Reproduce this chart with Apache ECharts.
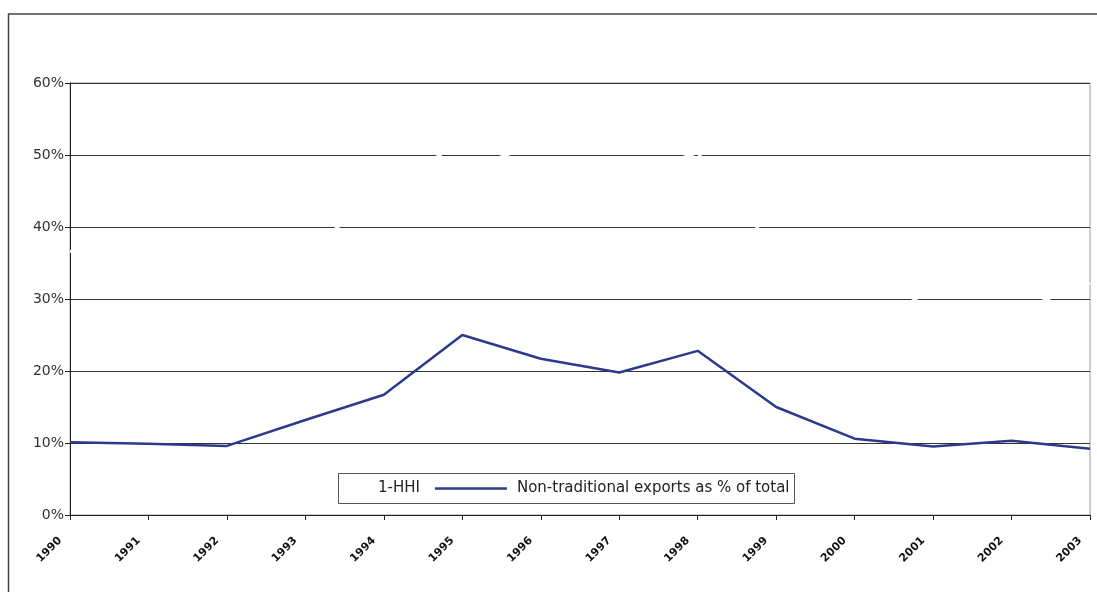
<!DOCTYPE html>
<html>
<head>
<meta charset="utf-8">
<script src="https://cdn.jsdelivr.net/npm/echarts@6/dist/echarts.min.js"></script>
<style>
  html, body { margin: 0; padding: 0; background: #fff; }
  #chart { width: 1097px; height: 592px; }
</style>
</head>
<body>
<div id="chart"></div>
<script>
// Years on the category axis
const years = ['1990', '1991', '1992', '1993', '1994', '1995', '1996',
               '1997', '1998', '1999', '2000', '2001', '2002', '2003'];

// 1-HHI (percent), drawn in white
const hhi = [36.6, 37.0, 37.5, 36.5, 45.0, 52.0, 48.2,
             47.0, 50.3, 36.6, 34.6, 28.5, 28.1, 32.2];

// Non-traditional exports as % of total
const nonTraditional = [10.1, 9.9, 9.6, 13.2, 16.7, 25.0, 21.7,
                        19.8, 22.8, 15.0, 10.6, 9.5, 10.3, 9.2];

// Y-axis ticks
const yTicks = [0, 10, 20, 30, 40, 50, 60];

const seriesNames = ['1-HHI', 'Non-traditional exports as % of total'];

const chart = echarts.init(document.getElementById('chart'), null, { renderer: 'canvas' });

const fontFamily = '"DejaVu Sans", Verdana, sans-serif';

chart.setOption({
  animation: false,
  backgroundColor: '#fff',
  grid: {
    left: 70, right: 7, top: 83, bottom: 77,
    show: true, borderColor: '#999', borderWidth: 1, backgroundColor: 'transparent'
  },
  legend: {
    data: seriesNames,
    left: 296,
    top: 481,
    padding: 0,
    icon: 'rect',
    itemWidth: 72,
    itemHeight: 2.5,
    itemGap: 15,
    textStyle: { fontFamily: fontFamily, fontSize: 15, color: '#222', padding: [0, 0, 0, 5] }
  },
  xAxis: {
    type: 'category',
    data: years,
    boundaryGap: false,
    axisLine: { show: true, lineStyle: { color: '#222', width: 1 } },
    axisTick: { show: true, length: 5, inside: false, lineStyle: { color: '#222' } },
    axisLabel: {
      rotate: 45, margin: 14, interval: 0, padding: [0, 14, 0, 0],
      fontFamily: fontFamily, fontSize: 11, fontWeight: 'bold', color: '#111'
    },
    splitLine: { show: false }
  },
  yAxis: {
    type: 'value',
    min: yTicks[0],
    max: yTicks[yTicks.length - 1],
    interval: 10,
    axisLine: { show: true, lineStyle: { color: '#222', width: 1 } },
    axisTick: { show: true, length: 5, lineStyle: { color: '#222' } },
    axisLabel: {
      formatter: v => v + '%', margin: 6,
      fontFamily: fontFamily, fontSize: 14, color: '#333'
    },
    splitLine: { show: true, lineStyle: { color: '#333', width: 1 } }
  },
  series: [
    {
      name: seriesNames[0],
      type: 'line',
      data: hhi,
      symbol: 'none',
      color: '#ffffff',
      lineStyle: { color: '#ffffff', width: 3 },
      z: 3
    },
    {
      name: seriesNames[1],
      type: 'line',
      data: nonTraditional,
      symbol: 'none',
      color: '#2b3a8a',
      lineStyle: { color: '#2b3a8a', width: 2.5 },
      z: 4
    }
  ],
  graphic: [
    {
      // outer frame (left and top edges visible)
      type: 'rect',
      z: 100,
      silent: true,
      shape: { x: 8.5, y: 14, width: 3000, height: 3000 },
      style: { fill: 'none', stroke: '#444', lineWidth: 1.5 }
    },
    {
      // legend box
      type: 'rect',
      z: 100,
      silent: true,
      shape: { x: 338.5, y: 473.5, width: 456, height: 30 },
      style: { fill: 'none', stroke: '#555', lineWidth: 1 }
    }
  ]
});
</script>
</body>
</html>
